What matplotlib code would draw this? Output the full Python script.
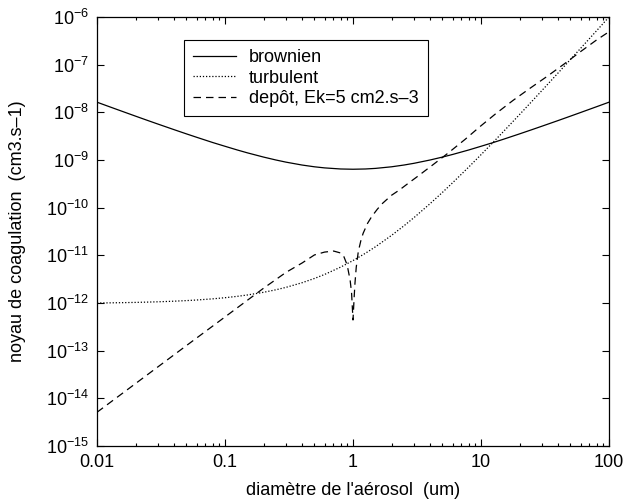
import matplotlib
matplotlib.use("Agg")
import matplotlib.pyplot as plt
from matplotlib.ticker import FixedLocator, LogLocator, NullFormatter

plt.rcParams['font.family'] = ['Liberation Sans', 'DejaVu Sans']
plt.rcParams['mathtext.fontset'] = 'custom'
plt.rcParams['mathtext.rm'] = 'Liberation Sans'
plt.rcParams['mathtext.it'] = 'Liberation Sans:italic'
plt.rcParams['mathtext.default'] = 'regular'

# diametre (um) et noyaux
d = [0.01, 0.0125, 0.015, 0.02, 0.025, 0.03, 0.04, 0.05, 0.06, 0.08,
     0.1, 0.125, 0.15, 0.2, 0.25, 0.3, 0.4, 0.5, 0.6, 0.8,
     1, 1.25, 1.5, 2, 2.5, 3, 4, 5, 6, 8,
     10, 12.5, 15, 20, 25, 30, 40, 50, 60, 80, 100]
brownien = [1.632e-8, 1.312e-8, 1.099e-8, 8.32e-9, 6.72e-9, 5.66e-9, 4.33e-9,
            3.53e-9, 3.0e-9, 2.33e-9,
            1.94e-9, 1.62e-9, 1.41e-9, 1.152e-9, 1.0e-9, 9.01e-10, 7.84e-10,
            7.2e-10, 6.83e-10, 6.48e-10,
            6.4e-10, 6.48e-10, 6.67e-10, 7.2e-10, 7.84e-10, 8.53e-10, 1.0e-9,
            1.152e-9, 1.307e-9, 1.62e-9,
            1.94e-9, 2.33e-9, 2.73e-9, 3.53e-9, 4.33e-9, 5.13e-9, 6.72e-9,
            8.32e-9, 9.92e-9, 1.312e-8, 1.632e-8]
turbulent = [1.0e-12, 1.007e-12, 1.014e-12, 1.029e-12, 1.045e-12, 1.06e-12,
             1.091e-12, 1.123e-12, 1.155e-12, 1.222e-12,
             1.291e-12, 1.381e-12, 1.475e-12, 1.676e-12, 1.894e-12, 2.131e-12,
             2.662e-12, 3.274e-12, 3.973e-12, 5.657e-12,
             7.76e-12, 1.105e-11, 1.516e-11, 2.62e-11, 4.16e-11, 6.21e-11,
             1.213e-10, 2.095e-10, 3.33e-10, 7.07e-10,
             1.291e-9, 2.386e-9, 3.973e-9, 8.98e-9, 1.705e-8, 2.89e-8,
             6.69e-8, 1.287e-7, 2.2e-7, 5.155e-7, 9.99e-7]

d_dep = [0.01, 0.02, 0.05, 0.1, 0.2, 0.3, 0.4, 0.5, 0.6, 0.706, 0.8, 0.85,
         0.9, 0.95, 0.975, 1.0, 1.02, 1.036, 1.06, 1.1, 1.15, 1.2, 1.3, 1.4,
         1.55, 1.7, 2.0, 2.3, 2.7, 3.15, 4.2, 5.5, 7.5, 9.8, 13, 17.8, 24,
         32.6, 45, 59, 80, 100]
depot = [5.1e-15, 2.04e-14, 1.28e-13, 5.1e-13, 2.04e-12, 4.4e-12, 6.9e-12,
         1.02e-11, 1.17e-11, 1.23e-11, 1.12e-11, 9.3e-12, 6.3e-12, 3.0e-12,
         1.6e-12, 4.4e-13, 1.26e-12, 2.6e-12, 5.6e-12, 1.2e-11, 2.0e-11,
         2.9e-11, 4.7e-11, 6.5e-11, 9.3e-11, 1.23e-10, 1.82e-10, 2.34e-10,
         3.24e-10, 4.4e-10, 7.9e-10, 1.38e-9, 2.7e-9, 5.0e-9, 9.3e-9,
         1.78e-8, 3.16e-8, 5.6e-8, 1.05e-7, 1.82e-7, 3.3e-7, 4.9e-7]

xticks = [0.01, 0.1, 1, 10, 100]
xticklabels = ['0.01', '0.1', '1', '10', '100']

fig = plt.figure(figsize=(6.27, 5.03), dpi=100)
ax = fig.add_axes([97 / 627, 1 - 446 / 503, 512 / 627, 429 / 503])

ax.plot(d, brownien, color='black', lw=0.9, label='brownien')
ax.plot(d, turbulent, color='black', lw=0.9, linestyle=(0, (1, 1.5)),
        label='turbulent')
ax.plot(d_dep, depot, color='black', lw=0.9, linestyle=(0, (6, 4)),
        label='depôt, Ek=5 cm2.s–3')

ax.set_xscale('log')
ax.set_yscale('log')
ax.set_xlim(0.01, 100)
ax.set_ylim(1e-15, 1e-6)

ax.xaxis.set_major_locator(FixedLocator(xticks))
ax.set_xticklabels(xticklabels)
ax.xaxis.set_minor_locator(LogLocator(base=10, subs=range(2, 10)))
ax.xaxis.set_minor_formatter(NullFormatter())
ax.yaxis.set_major_locator(LogLocator(base=10, numticks=20))
ax.yaxis.set_minor_locator(FixedLocator([]))

ax.tick_params(which='both', direction='in', top=True, right=True,
               labelsize=13, width=0.8)
ax.tick_params(which='major', length=5, pad=6)
ax.tick_params(which='minor', length=2.5)
for s in ax.spines.values():
    s.set_linewidth(0.9)

ax.set_xlabel("diamètre de l'aérosol  (um)", fontsize=13, labelpad=8)
ax.set_ylabel('noyau de coagulation  (cm3.s–1)', fontsize=13, labelpad=14)

leg = ax.legend(loc='upper left', bbox_to_anchor=(0.17, 0.946),
                borderaxespad=0, fontsize=13, fancybox=False, framealpha=1,
                edgecolor='black', handlelength=2.4, handletextpad=0.7,
                labelspacing=0.2, borderpad=0.5)
leg.get_frame().set_linewidth(0.8)

fig.savefig('out.png', dpi=100)
